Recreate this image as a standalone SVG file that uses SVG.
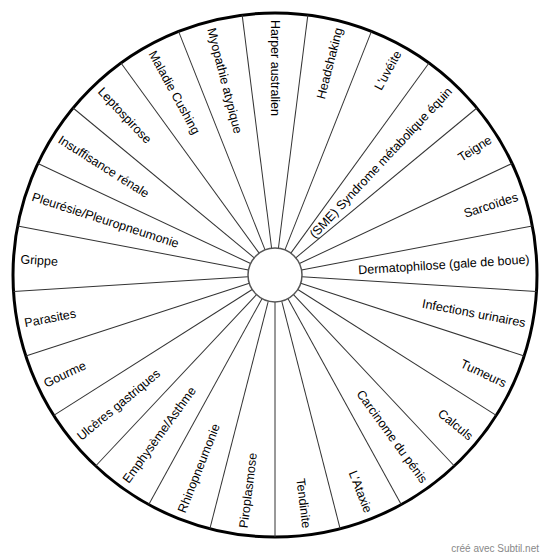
<svg xmlns="http://www.w3.org/2000/svg" width="550" height="560" viewBox="0 0 550 560">
<style>
.bg{fill:#fff}
.rim{fill:none;stroke:#000;stroke-width:3}
.hub{fill:#fff;stroke:#555;stroke-width:1.5}
.sp{stroke:#333;stroke-width:1}
.r{font-family:"Liberation Sans",Arial,sans-serif;font-size:12.5px;fill:#000;text-anchor:end}
.l{font-family:"Liberation Sans",Arial,sans-serif;font-size:12.5px;fill:#000;text-anchor:start}
.wm{font-family:"Liberation Sans",Arial,sans-serif;font-size:10px;fill:#888;text-anchor:end}
</style>
<rect class="bg" x="0" y="0" width="550" height="560"/>
<circle class="rim" cx="275" cy="275" r="262"/>
<g id="spokes">
<line class="sp" x1="302" y1="275" x2="537" y2="275" transform="rotate(-82.8 275 275)"/>
<line class="sp" x1="302" y1="275" x2="537" y2="275" transform="rotate(-68.4 275 275)"/>
<line class="sp" x1="302" y1="275" x2="537" y2="275" transform="rotate(-54 275 275)"/>
<line class="sp" x1="302" y1="275" x2="537" y2="275" transform="rotate(-39.6 275 275)"/>
<line class="sp" x1="302" y1="275" x2="537" y2="275" transform="rotate(-25.2 275 275)"/>
<line class="sp" x1="302" y1="275" x2="537" y2="275" transform="rotate(-10.8 275 275)"/>
<line class="sp" x1="302" y1="275" x2="537" y2="275" transform="rotate(3.6 275 275)"/>
<line class="sp" x1="302" y1="275" x2="537" y2="275" transform="rotate(18 275 275)"/>
<line class="sp" x1="302" y1="275" x2="537" y2="275" transform="rotate(32.4 275 275)"/>
<line class="sp" x1="302" y1="275" x2="537" y2="275" transform="rotate(46.8 275 275)"/>
<line class="sp" x1="302" y1="275" x2="537" y2="275" transform="rotate(61.2 275 275)"/>
<line class="sp" x1="302" y1="275" x2="537" y2="275" transform="rotate(75.6 275 275)"/>
<line class="sp" x1="302" y1="275" x2="537" y2="275" transform="rotate(90 275 275)"/>
<line class="sp" x1="302" y1="275" x2="537" y2="275" transform="rotate(104.4 275 275)"/>
<line class="sp" x1="302" y1="275" x2="537" y2="275" transform="rotate(118.8 275 275)"/>
<line class="sp" x1="302" y1="275" x2="537" y2="275" transform="rotate(133.2 275 275)"/>
<line class="sp" x1="302" y1="275" x2="537" y2="275" transform="rotate(147.6 275 275)"/>
<line class="sp" x1="302" y1="275" x2="537" y2="275" transform="rotate(162 275 275)"/>
<line class="sp" x1="302" y1="275" x2="537" y2="275" transform="rotate(176.4 275 275)"/>
<line class="sp" x1="302" y1="275" x2="537" y2="275" transform="rotate(190.8 275 275)"/>
<line class="sp" x1="302" y1="275" x2="537" y2="275" transform="rotate(205.2 275 275)"/>
<line class="sp" x1="302" y1="275" x2="537" y2="275" transform="rotate(219.6 275 275)"/>
<line class="sp" x1="302" y1="275" x2="537" y2="275" transform="rotate(234 275 275)"/>
<line class="sp" x1="302" y1="275" x2="537" y2="275" transform="rotate(248.4 275 275)"/>
<line class="sp" x1="302" y1="275" x2="537" y2="275" transform="rotate(262.8 275 275)"/>
</g>
<circle class="hub" cx="275" cy="275" r="27"/>
<g id="headshaking"><text class="r" x="530" y="275" dy="0.36em" transform="rotate(-75.6 275 275)">Headshaking</text></g>
<g id="uveite"><text class="r" x="530" y="275" dy="0.36em" transform="rotate(-61.2 275 275)">L'uvéite</text></g>
<g id="sme"><text class="r" x="530" y="275" dy="0.36em" transform="rotate(-46.8 275 275)">(SME) Syndrome métabolique équin</text></g>
<g id="teigne"><text class="r" x="530" y="275" dy="0.36em" transform="rotate(-32.4 275 275)">Teigne</text></g>
<g id="sarcoides"><text class="r" x="530" y="275" dy="0.36em" transform="rotate(-18 275 275)">Sarcoïdes</text></g>
<g id="dermatophilose"><text class="r" x="530" y="275" dy="0.36em" transform="rotate(-3.6 275 275)">Dermatophilose (gale de boue)</text></g>
<g id="infections"><text class="r" x="530" y="275" dy="0.36em" transform="rotate(10.8 275 275)">Infections urinaires</text></g>
<g id="tumeurs"><text class="r" x="530" y="275" dy="0.36em" transform="rotate(25.2 275 275)">Tumeurs</text></g>
<g id="calculs"><text class="r" x="530" y="275" dy="0.36em" transform="rotate(39.6 275 275)">Calculs</text></g>
<g id="carcinome"><text class="r" x="530" y="275" dy="0.36em" transform="rotate(54 275 275)">Carcinome du pénis</text></g>
<g id="ataxie"><text class="r" x="530" y="275" dy="0.36em" transform="rotate(68.4 275 275)">L'Ataxie</text></g>
<g id="tendinite"><text class="r" x="530" y="275" dy="0.36em" transform="rotate(82.8 275 275)">Tendinite</text></g>
<g id="piroplasmose"><text class="l" x="20" y="275" dy="0.36em" transform="rotate(-82.8 275 275)">Piroplasmose</text></g>
<g id="rhinopneumonie"><text class="l" x="20" y="275" dy="0.36em" transform="rotate(-68.4 275 275)">Rhinopneumonie</text></g>
<g id="emphyseme"><text class="l" x="20" y="275" dy="0.36em" transform="rotate(-54 275 275)">Emphysème/Asthme</text></g>
<g id="ulceres"><text class="l" x="20" y="275" dy="0.36em" transform="rotate(-39.6 275 275)">Ulcères gastriques</text></g>
<g id="gourme"><text class="l" x="20" y="275" dy="0.36em" transform="rotate(-25.2 275 275)">Gourme</text></g>
<g id="parasites"><text class="l" x="20" y="275" dy="0.36em" transform="rotate(-10.8 275 275)">Parasites</text></g>
<g id="grippe"><text class="l" x="20" y="275" dy="0.36em" transform="rotate(3.6 275 275)">Grippe</text></g>
<g id="pleuresie"><text class="l" x="20" y="275" dy="0.36em" transform="rotate(18 275 275)">Pleurésie/Pleuropneumonie</text></g>
<g id="insuffisance"><text class="l" x="20" y="275" dy="0.36em" transform="rotate(32.4 275 275)">Insuffisance rénale</text></g>
<g id="leptospirose"><text class="l" x="20" y="275" dy="0.36em" transform="rotate(46.8 275 275)">Leptospirose</text></g>
<g id="cushing"><text class="l" x="20" y="275" dy="0.36em" transform="rotate(61.2 275 275)">Maladie Cushing</text></g>
<g id="myopathie"><text class="l" x="20" y="275" dy="0.36em" transform="rotate(75.6 275 275)">Myopathie atypique</text></g>
<g id="harper"><text class="l" x="20" y="275" dy="0.36em" transform="rotate(90 275 275)">Harper australien</text></g>
<text class="wm" x="539" y="552">créé avec Subtil.net</text>
</svg>
